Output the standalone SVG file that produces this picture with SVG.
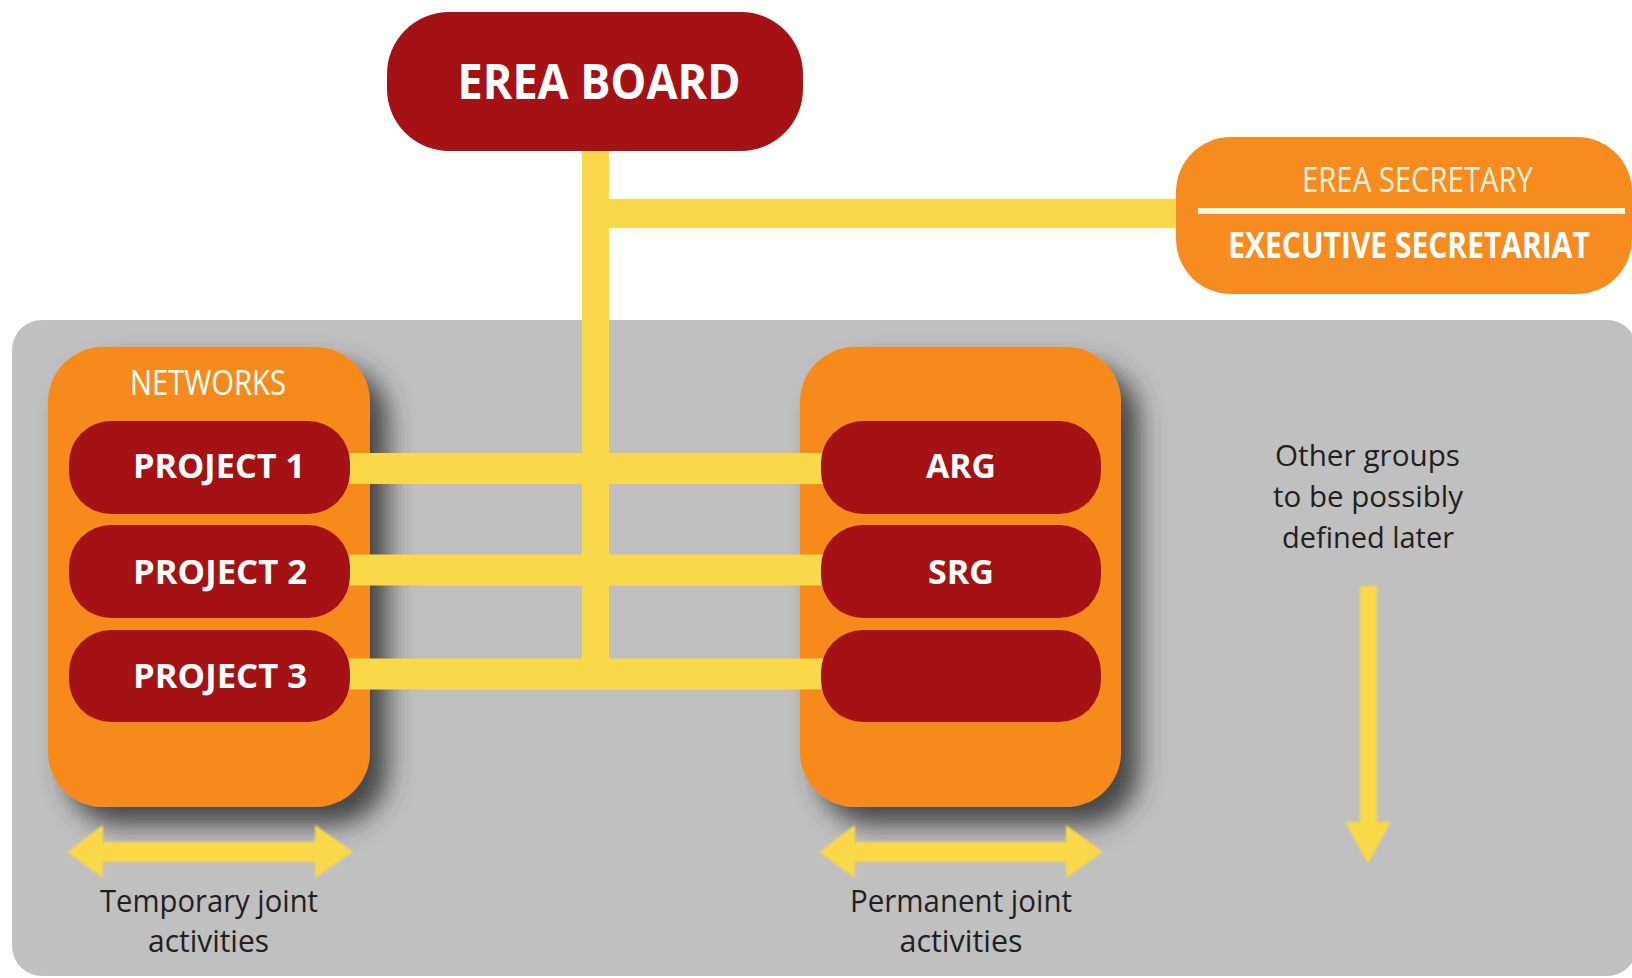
<svg xmlns="http://www.w3.org/2000/svg" width="1632" height="978" viewBox="0 0 1632 978">
<style>
.red{fill:#A51215}
.orange{fill:#F68B1F}
.yl{stroke:#F9D84A;fill:none}
.yf{fill:#F9D84A}
.t{font-family:"Open Sans","Noto Sans","Liberation Sans",sans-serif;text-anchor:middle}
.w{fill:#FFFFFF}
.b{font-weight:bold}
.d{fill:#231F20}
</style>
<defs>
<filter id="shadow" x="-20%" y="-20%" width="150%" height="150%">
<feGaussianBlur in="SourceAlpha" stdDeviation="13"/>
<feOffset dx="18" dy="18" result="o"/>
<feFlood flood-color="#383838" flood-opacity="0.9"/>
<feComposite in2="o" operator="in"/>
<feMerge><feMergeNode/><feMergeNode in="SourceGraphic"/></feMerge>
</filter>
<filter id="soft" x="-5%" y="-20%" width="110%" height="140%">
<feGaussianBlur stdDeviation="1.2"/>
</filter>
</defs>
<rect width="1632" height="978" fill="#FFFFFF"/>
<g id="panel">
<rect x="12" y="320" width="1625" height="656" rx="30" fill="#C0C0C0"/>
</g>
<g id="networks">
<rect class="orange" x="48" y="347" width="322" height="460" rx="55" filter="url(#shadow)"/>
<text class="t w" x="208" y="395" font-size="34" textLength="156" lengthAdjust="spacingAndGlyphs">NETWORKS</text>
</g>
<g id="groups">
<rect class="orange" x="800" y="347" width="321" height="460" rx="55" filter="url(#shadow)"/>
</g>
<g id="connectors">
<path class="yl" d="M595.5 151 V674" stroke-width="27"/>
<path class="yl" d="M609 213.5 H1180" stroke-width="29"/>
<path class="yl" d="M349 468.5 H823" stroke-width="31"/>
<path class="yl" d="M349 570 H823" stroke-width="31"/>
<path class="yl" d="M349 674 H823" stroke-width="31"/>
<g filter="url(#soft)">
<polygon class="yf" points="67,852 103,825 103,842 315,842 315,825 353,852 315,878 315,862 103,862 103,878"/>
<polygon class="yf" points="819,852 855,825 855,842 1066,842 1066,825 1103,852 1066,878 1066,862 855,862 855,878"/>
<polygon class="yf" points="1360,586 1377,586 1377,822 1391,822 1368,864 1345,822 1360,822"/>
</g>
</g>
<g id="board">
<rect class="red" x="387" y="12" width="416" height="139" rx="62"/>
<text class="t w b" x="599" y="99" font-size="48" textLength="283" lengthAdjust="spacingAndGlyphs">EREA BOARD</text>
</g>
<g id="secretary">
<rect class="orange" x="1176" y="137" width="456" height="157" rx="55"/>
<text class="t" x="1417.5" y="192" font-size="34" fill="#FFF1D6" textLength="231" lengthAdjust="spacingAndGlyphs">EREA SECRETARY</text>
<rect x="1198" y="208" width="427" height="6" fill="#FFF6E0"/>
<text class="t w b" transform="translate(1409 258) scale(0.8 1)" x="0" y="0" font-size="35" textLength="452" lengthAdjust="spacingAndGlyphs">EXECUTIVE SECRETARIAT</text>
</g>
<g id="project1">
<rect class="red" x="69" y="421" width="281" height="93" rx="42"/>
<text class="t w b" x="219" y="478" font-size="34" textLength="172" lengthAdjust="spacingAndGlyphs">PROJECT 1</text>
</g>
<g id="project2">
<rect class="red" x="69" y="525" width="281" height="93" rx="42"/>
<text class="t w b" x="220" y="584" font-size="34" textLength="174" lengthAdjust="spacingAndGlyphs">PROJECT 2</text>
</g>
<g id="project3">
<rect class="red" x="69" y="630" width="281" height="92" rx="42"/>
<text class="t w b" x="220" y="688" font-size="34" textLength="174" lengthAdjust="spacingAndGlyphs">PROJECT 3</text>
</g>
<g id="arg">
<rect class="red" x="821" y="421" width="280" height="93" rx="42"/>
<text class="t w b" x="961" y="478" font-size="34" textLength="70" lengthAdjust="spacingAndGlyphs">ARG</text>
</g>
<g id="srg">
<rect class="red" x="821" y="525" width="280" height="93" rx="42"/>
<text class="t w b" x="961" y="584" font-size="34" textLength="66" lengthAdjust="spacingAndGlyphs">SRG</text>
</g>
<g id="blank">
<rect class="red" x="821" y="630" width="280" height="92" rx="42"/>
</g>
<g id="labels">
<text class="t d" x="209" y="912" font-size="31" textLength="218" lengthAdjust="spacingAndGlyphs">Temporary joint</text>
<text class="t d" x="208.5" y="952" font-size="31" textLength="121" lengthAdjust="spacingAndGlyphs">activities</text>
<text class="t d" x="961" y="912" font-size="31" textLength="222" lengthAdjust="spacingAndGlyphs">Permanent joint</text>
<text class="t d" x="961" y="952" font-size="31" textLength="123" lengthAdjust="spacingAndGlyphs">activities</text>
<text class="t d" x="1367.5" y="466" font-size="30" textLength="185" lengthAdjust="spacingAndGlyphs">Other groups</text>
<text class="t d" x="1368" y="507" font-size="30" textLength="190" lengthAdjust="spacingAndGlyphs">to be possibly</text>
<text class="t d" x="1368" y="548" font-size="30" textLength="172" lengthAdjust="spacingAndGlyphs">defined later</text>
</g>
</svg>
